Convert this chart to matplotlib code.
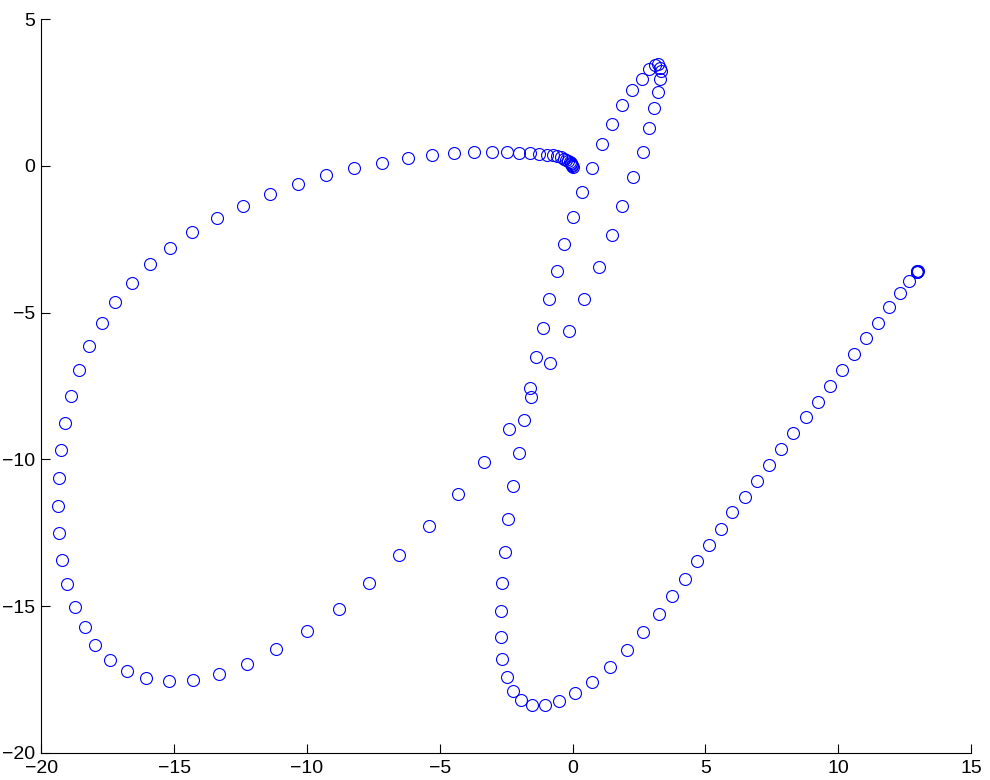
import matplotlib
matplotlib.use("Agg")
import matplotlib.pyplot as plt

# Trajectory points (x, y)
x_vals = [
    0.00, -0.01, -0.02, -0.04, -0.07, -0.11, -0.17, -0.24, -0.33, -0.44, -0.58, -0.75, -0.98, -1.26,
    -1.60, -2.00, -2.47, -3.04, -3.70, -4.46, -5.29, -6.21, -7.19, -8.22, -9.29,
    -10.35, -11.40, -12.41, -13.39, -14.31, -15.15, -15.92, -16.59, -17.22, -17.73,
    -18.20, -18.58, -18.88, -19.09, -19.27, -19.35, -19.38, -19.34, -19.22, -19.03,
    -18.73, -18.37, -17.96, -17.41, -16.78, -16.05, -15.20, -14.30, -13.31, -12.26,
    -11.16, -9.99, -8.81, -7.66, -6.53, -5.40, -4.33, -3.35, -2.41, -1.60,
    -1.36, -1.12, -0.88, -0.60, -0.32, 0.00, 0.35, 0.72, 1.10, 1.49, 1.88, 2.24,
    2.61, 2.87, 3.10, 3.22, 3.31, 3.32, 3.30, 3.22, 3.07, 2.87, 2.64, 2.27,
    1.88, 1.47, 0.99, 0.45, -0.15, -0.83, -1.58, -1.82, -2.03, -2.25, -2.42,
    -2.55, -2.67, -2.71, -2.71, -2.64, -2.46, -2.24, -1.94, -1.53, -1.05, -0.52,
    0.09, 0.75, 1.40, 2.06, 2.65, 3.24, 3.74, 4.22, 4.69, 5.13, 5.58, 6.02,
    6.49, 6.94, 7.40, 7.85, 8.31, 8.77, 9.24, 9.69, 10.14, 10.60, 11.05, 11.51,
    11.92, 12.32, 12.67, 12.96, 12.97, 12.98, 12.99,
]
y_vals = [
    -0.03, -0.01, 0.02, 0.06, 0.09, 0.13, 0.17, 0.21, 0.25, 0.29, 0.33, 0.365, 0.385, 0.41,
    0.43, 0.45, 0.47, 0.48, 0.47, 0.43, 0.36, 0.26, 0.11, -0.08, -0.32,
    -0.61, -0.95, -1.35, -1.78, -2.26, -2.78, -3.35, -3.99, -4.64, -5.37,
    -6.14, -6.96, -7.84, -8.75, -9.69, -10.64, -11.58, -12.51, -13.42, -14.25,
    -15.02, -15.73, -16.33, -16.83, -17.20, -17.44, -17.57, -17.52, -17.32, -16.98,
    -16.48, -15.84, -15.09, -14.22, -13.26, -12.26, -11.19, -10.09, -8.98, -7.56,
    -6.52, -5.51, -4.52, -3.57, -2.65, -1.75, -0.89, -0.06, 0.74, 1.43, 2.07, 2.59,
    2.96, 3.30, 3.44, 3.48, 3.35, 3.25, 2.95, 2.53, 1.98, 1.28, 0.49, -0.38,
    -1.35, -2.37, -3.43, -4.52, -5.62, -6.73, -7.86, -8.65, -9.77, -10.91, -12.04,
    -13.15, -14.20, -15.17, -16.05, -16.81, -17.42, -17.91, -18.22, -18.37, -18.39, -18.25,
    -17.97, -17.58, -17.07, -16.50, -15.90, -15.27, -14.66, -14.07, -13.48, -12.92, -12.38, -11.81,
    -11.27, -10.73, -10.19, -9.65, -9.11, -8.56, -8.03, -7.49, -6.95, -6.41, -5.86, -5.34,
    -4.81, -4.34, -3.93, -3.61, -3.60, -3.59, -3.58,
]

x_ticks = [-20, -15, -10, -5, 0, 5, 10, 15]
y_ticks = [-20, -15, -10, -5, 0, 5]

plt.rcParams['font.family'] = ['Liberation Sans', 'DejaVu Sans']

fig = plt.figure(figsize=(9.9, 7.8), dpi=100)
ax = fig.add_axes([0.0417, 0.035, 0.9391, 0.9403])

ax.plot(x_vals, y_vals, linestyle='none', marker='o', markersize=8.6,
        markerfacecolor='none', markeredgecolor='#0000ff', markeredgewidth=0.8)

ax.set_xlim(-20, 15)
ax.set_ylim(-20, 5)
ax.set_xticks(x_ticks)
ax.set_yticks(y_ticks)

for side in ['top', 'right']:
    ax.spines[side].set_visible(False)
for side in ['left', 'bottom']:
    ax.spines[side].set_linewidth(0.8)

ax.tick_params(direction='in', length=6.5, width=0.8, labelsize=14, colors='black')
ax.tick_params(axis='y', pad=4.5)
ax.tick_params(axis='x', pad=5.5)

fig.savefig('out.png', dpi=100)
